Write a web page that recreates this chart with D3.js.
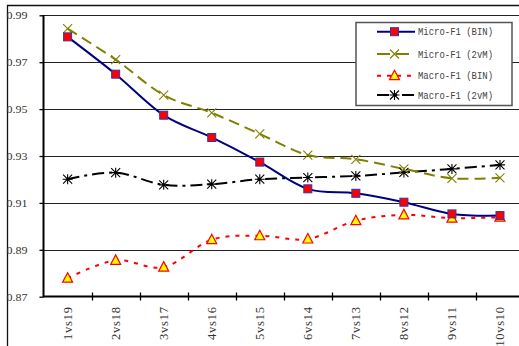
<!DOCTYPE html>
<html><head><meta charset="utf-8">
<script src="https://cdn.jsdelivr.net/npm/d3@7"></script>
<style>html,body{margin:0;padding:0;background:#fff;overflow:hidden}</style>
</head><body>
<svg id="c" width="519" height="346"></svg>
<script>
const categories = ["1vs19","2vs18","3vs17","4vs16","5vs15","6vs14","7vs13","8vs12","9vs11","10vs10"];
const microBIN = [0.9808,0.9649,0.9474,0.9379,0.9274,0.9160,0.9141,0.9103,0.9053,0.9046];
const micro2vM = [0.9843,0.9711,0.9560,0.9484,0.9394,0.9304,0.9286,0.9245,0.9205,0.9207];
const macroBIN = [0.8779,0.8855,0.8826,0.8943,0.8960,0.8946,0.9024,0.9049,0.9035,0.9039];
const macro2vM = [0.9201,0.9229,0.9177,0.9180,0.9201,0.9208,0.9215,0.9230,0.9245,0.9262];
const yTicks = [0.87,0.89,0.91,0.93,0.95,0.97,0.99];
const seriesNames = ["Micro-F1 (BIN)","Micro-F1 (2vM)","Macro-F1 (BIN)","Macro-F1 (2vM)"];

const svg = d3.select("#c");
const x = d3.scaleBand().domain(categories).range([43.6, 524]);
const y = d3.scaleLinear().domain([0.87, 0.99]).range([296.7, 15.3]);
const cx = d => x(d) + x.bandwidth()/2;

// outer frame
svg.append("path").attr("d","M7.5,346 V5.5 H519").attr("fill","none").attr("stroke","#111").attr("stroke-width",1.3);

// gridlines
svg.append("g").selectAll("line").data(yTicks.slice(1)).join("line")
  .attr("x1",43).attr("x2",519).attr("y1",d=>Math.round(y(d))+0.5).attr("y2",d=>Math.round(y(d))+0.5)
  .attr("stroke","#222").attr("stroke-width",1);

// y axis
const yAxis = svg.append("g").attr("transform","translate(43.5,0)")
  .call(d3.axisLeft(y).tickValues(yTicks).tickSize(4).tickPadding(12).tickFormat(d3.format(".2f")));
yAxis.select(".domain").attr("stroke","#000").attr("stroke-width",2).attr("d","M0,15 V297");
yAxis.selectAll(".tick line").attr("stroke","#000").attr("stroke-width",1.3);
yAxis.selectAll("text").attr("font-family","Liberation Serif, serif").attr("font-size",11).attr("fill","#333")
  .attr("textLength",21).attr("lengthAdjust","spacingAndGlyphs");

// x axis
const xAxis = svg.append("g").attr("transform","translate(0,296.5)");
xAxis.append("line").attr("x1",43).attr("x2",519).attr("y1",0).attr("y2",0).attr("stroke","#000").attr("stroke-width",2);
xAxis.selectAll(".tk").data(categories.slice(1)).join("line").attr("class","tk")
  .attr("x1",d=>Math.round(x(d))+0.5).attr("x2",d=>Math.round(x(d))+0.5).attr("y1",-4).attr("y2",4)
  .attr("stroke","#000").attr("stroke-width",1.3);
xAxis.selectAll("text").data(categories).join("text")
  .attr("transform",d=>`translate(${cx(d)},10.5) rotate(-90)`)
  .attr("text-anchor","end").attr("dy","0.35em")
  .attr("font-family","Liberation Serif, serif").attr("font-size",12.5).attr("fill","#333")
  .attr("textLength",d=>d.length*6.6).attr("lengthAdjust","spacing")
  .text(d=>d);

const line = d3.line().x((d,i)=>cx(categories[i])).y(d=>y(d)).curve(d3.curveCardinal.tension(0));
const plot = svg.append("g");

plot.append("path").attr("d",line(macro2vM)).attr("fill","none").attr("stroke","#000").attr("stroke-width",2).attr("stroke-dasharray","12,5,3,5");
plot.append("path").attr("d",line(macroBIN)).attr("fill","none").attr("stroke","#ff0000").attr("stroke-width",2).attr("stroke-dasharray","4,6");
plot.append("path").attr("d",line(micro2vM)).attr("fill","none").attr("stroke","#808000").attr("stroke-width",2).attr("stroke-dasharray","11,6");
plot.append("path").attr("d",line(microBIN)).attr("fill","none").attr("stroke","#000080").attr("stroke-width",2);

function drawMarker(g, type, px, py){
  if(type===0){
    g.append("rect").attr("x",px-4).attr("y",py-4).attr("width",8).attr("height",8).attr("fill","#ff0000").attr("stroke","#3333aa").attr("stroke-width",1);
  } else if(type===1){
    g.append("path").attr("d",`M${px-4.5},${py-4.5}L${px+4.5},${py+4.5}M${px-4.5},${py+4.5}L${px+4.5},${py-4.5}`).attr("stroke","#808000").attr("stroke-width",1.1).attr("fill","none");
  } else if(type===2){
    g.append("path").attr("d",`M${px},${py-5.5}L${px+5},${py+4}L${px-5},${py+4}Z`).attr("fill","#ffff00").attr("stroke","#ff0000").attr("stroke-width",1.2);
  } else {
    g.append("path").attr("d",`M${px-4.5},${py-4.5}L${px+4.5},${py+4.5}M${px-4.5},${py+4.5}L${px+4.5},${py-4.5}M${px},${py-5}L${px},${py+5}M${px-5},${py}L${px+5},${py}`).attr("stroke","#000").attr("stroke-width",1.1).attr("fill","none");
  }
}
const allSeries = [microBIN, micro2vM, macroBIN, macro2vM];
[3,2,1,0].forEach(s=>{
  allSeries[s].forEach((v,i)=>drawMarker(plot, s, cx(categories[i]), y(v)));
});

// legend
const lg = svg.append("g");
lg.append("rect").attr("x",356).attr("y",22.5).attr("width",156).attr("height",83).attr("fill","#fff").attr("stroke","#555").attr("stroke-width",1.5);
const rowsY = [31.7, 54, 75.7, 95];
const styles = [
  {c:"#000080",dash:null},
  {c:"#808000",dash:"13,6"},
  {c:"#ff0000",dash:"4,6"},
  {c:"#000",dash:"12,5,3,5"}
];
seriesNames.forEach((n,i)=>{
  const ry = rowsY[i];
  lg.append("line").attr("x1",377).attr("x2",415).attr("y1",ry).attr("y2",ry).attr("stroke",styles[i].c).attr("stroke-width",2)
    .attr("stroke-dasharray",styles[i].dash);
  drawMarker(lg, i, 394.5, ry);
  lg.append("text").attr("x",418).attr("y",ry).attr("dy","0.35em").attr("font-family","Liberation Mono, monospace").attr("font-size",10)
    .attr("fill","#444").attr("textLength",75).attr("lengthAdjust","spacingAndGlyphs").text(n);
});
</script>
</body></html>
